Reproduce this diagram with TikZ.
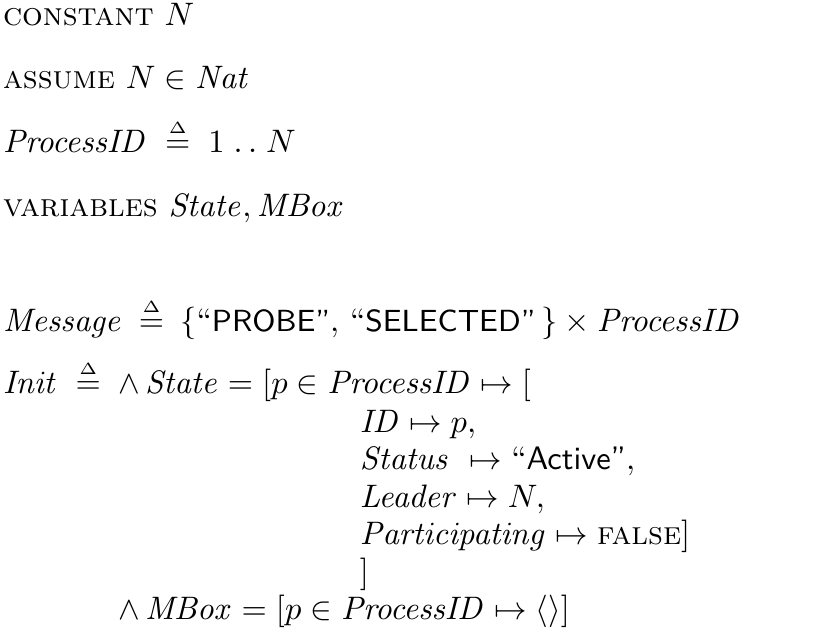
\documentclass[tikz,border=0pt]{standalone}
\usepackage{amsmath,amssymb}
\newcommand\tladefsym{\stackrel{\scriptscriptstyle\Delta}{=}}
\newcommand\tladef{\mathrel{\;\tladefsym\;}}
\newcommand\tladefn{\mathrel{\mkern4mu\tladefsym\mkern4mu}}
\newcommand\tkw[1]{\textsc{#1}}
\newcommand\tstr[1]{\text{``\textsf{#1''}}}
\newcommand\tstrs[1]{\text{``\textsf{\fontsize{9.4}{11}\selectfont #1''}}}
\newcommand\vid[1]{\mathit{#1}}
\begin{document}
\begin{tikzpicture}[x=0.3077pt,y=-0.3077pt,
  tl/.style={anchor=base west,inner sep=0pt,outer sep=0pt}]
\useasboundingbox (0,0) rectangle (840,638);
\node[tl] (cst) at (3,25) {\tkw{constant} $N$};
\node[tl] (asm) at (3,88) {\tkw{assume} $N \in \vid{Nat}$};
\node[tl] (pid) at (3,152) {$\vid{ProcessID} \tladef 1 \mathrel{\ldotp\ldotp} N$};
\node[tl] (var) at (3,216) {\tkw{variables} $\vid{State}, \vid{MBox}$};
\node[tl] (msg) at (3,331) {$\vid{Message} \tladefn \{\tstrs{PROBE},\, \tstrs{SELECTED}\,\} \times \vid{ProcessID}$};
\node[tl] (init) at (3,393) {$\vid{Init} \tladef$};
\node[tl] (st) at (118,393) {$\land\, \vid{State} = [p \in \vid{ProcessID} \mapsto [$};
\node[tl] (fid) at (360,432) {$\vid{ID} \mapsto p,$};
\node[tl] (fst) at (360,469) {$\vid{Status}\ \mapsto \tstr{Active},$};
\node[tl] (fld) at (360,507) {$\vid{Leader} \mapsto N,$};
\node[tl] (fpa) at (360,544) {$\vid{Participating} \mapsto \textsc{false}]$};
\node[tl] (cls) at (360,582) {$]$};
\node[tl] (mb) at (118,619) {$\land\, \vid{MBox} = [p \in \vid{ProcessID} \mapsto \langle\rangle]$};
\end{tikzpicture}
\end{document}
